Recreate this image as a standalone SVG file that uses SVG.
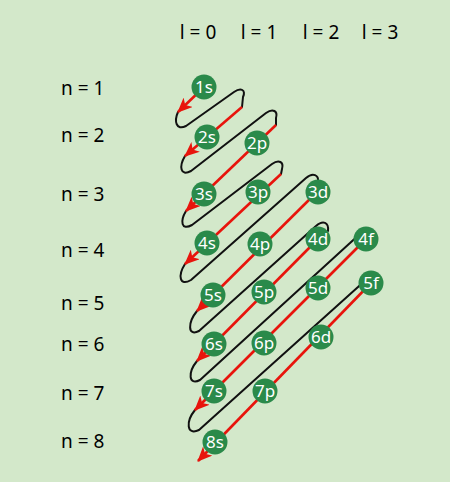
<svg xmlns="http://www.w3.org/2000/svg" width="450" height="482" viewBox="0 0 450 482">
<defs>
<style>
.lbl{font-family:"Noto Sans","DejaVu Sans",sans-serif;font-size:19px;fill:#000}
.nd circle{fill:#2a8a4a}
.nd text{font-family:"Noto Sans","DejaVu Sans",sans-serif;font-size:17px;fill:#fff;text-anchor:middle}
.red{stroke:#e8140c;stroke-width:2.6;fill:none;marker-end:url(#ah)}
.blk{stroke:#111;stroke-width:2;fill:none;stroke-linecap:round;stroke-linejoin:round}
</style>
<marker id="ah" markerUnits="userSpaceOnUse" markerWidth="15" markerHeight="13" refX="14" refY="6.5" orient="auto">
<path d="M0,0 L15,6.5 L0,13 L4,6.5 z" fill="#e8140c"/>
</marker>
</defs>
<rect width="450" height="482" fill="#d3e8ca"/>
<g id="labels">
<text class="lbl" x="198" y="39" text-anchor="middle">l = 0</text>
<text class="lbl" x="259" y="39" text-anchor="middle">l = 1</text>
<text class="lbl" x="321" y="39" text-anchor="middle">l = 2</text>
<text class="lbl" x="380" y="39" text-anchor="middle">l = 3</text>
<text class="lbl" x="61" y="95">n = 1</text>
<text class="lbl" x="61" y="142">n = 2</text>
<text class="lbl" x="61" y="201">n = 3</text>
<text class="lbl" x="61" y="257">n = 4</text>
<text class="lbl" x="61" y="310">n = 5</text>
<text class="lbl" x="61" y="351">n = 6</text>
<text class="lbl" x="61" y="400">n = 7</text>
<text class="lbl" x="61" y="448">n = 8</text>
</g>
<g id="connectors">
<path class="blk" d="M178,112 C174,121 176,131 186,126 L234,92 C241,87 246,90 243,97 L242,107"/>
<path class="blk" d="M185,156 C179,166 180,177 191,171 L266,113 C273,108 278,111 276,118 L276,125"/>
<path class="blk" d="M186,211 C180,221 181,231 192,225 L272,164 C279,159 284,162 282,169 L281,174"/>
<path class="blk" d="M185,264 C178,275 179,287 191,280 L306,178 C313,172 319,175 318,182"/>
<path class="blk" d="M197,311 C188,322 187,337 199,331 L316,226 C323,220 329,222 328,231"/>
<path class="blk" d="M197,361 C188,372 188,386 200,380 L350,243 C353,240 356,237 360,236"/>
<path class="blk" d="M195,410 C186,421 186,436 199,430 L358,287 C361,284 364,282 368,281"/>
<path class="red" d="M204,87 L178,112"/>
<path class="red" d="M242,107 L185,156"/>
<path class="red" d="M276,125 L186,211"/>
<path class="red" d="M281,174 L185,264"/>
<path class="red" d="M318,191 L197,311"/>
<path class="red" d="M319,238 L197,361"/>
<path class="red" d="M366,239 L195,410"/>
<path class="red" d="M371,283 L198,461"/>
</g>
<g id="n1s" class="nd"><circle cx="204" cy="87" r="12.5"/><text x="204" y="93">1s</text></g>
<g id="n2s" class="nd"><circle cx="207" cy="137" r="12.5"/><text x="207" y="143">2s</text></g>
<g id="n2p" class="nd"><circle cx="257" cy="143" r="12.5"/><text x="257" y="149">2p</text></g>
<g id="n3s" class="nd"><circle cx="204" cy="194" r="12.5"/><text x="204" y="200">3s</text></g>
<g id="n3p" class="nd"><circle cx="258" cy="192" r="12.5"/><text x="258" y="198">3p</text></g>
<g id="n3d" class="nd"><circle cx="318" cy="192" r="12.5"/><text x="318" y="198">3d</text></g>
<g id="n4s" class="nd"><circle cx="207" cy="243" r="12.5"/><text x="207" y="249">4s</text></g>
<g id="n4p" class="nd"><circle cx="260" cy="244" r="12.5"/><text x="260" y="250">4p</text></g>
<g id="n4d" class="nd"><circle cx="318" cy="239" r="12.5"/><text x="318" y="245">4d</text></g>
<g id="n4f" class="nd"><circle cx="366" cy="239" r="12.5"/><text x="366" y="245">4f</text></g>
<g id="n5s" class="nd"><circle cx="213" cy="295" r="12.5"/><text x="213" y="301">5s</text></g>
<g id="n5p" class="nd"><circle cx="264" cy="292" r="12.5"/><text x="264" y="298">5p</text></g>
<g id="n5d" class="nd"><circle cx="318" cy="288" r="12.5"/><text x="318" y="294">5d</text></g>
<g id="n5f" class="nd"><circle cx="371" cy="283" r="12.5"/><text x="371" y="289">5f</text></g>
<g id="n6s" class="nd"><circle cx="214" cy="344" r="12.5"/><text x="214" y="350">6s</text></g>
<g id="n6p" class="nd"><circle cx="264" cy="343" r="12.5"/><text x="264" y="349">6p</text></g>
<g id="n6d" class="nd"><circle cx="321" cy="337" r="12.5"/><text x="321" y="343">6d</text></g>
<g id="n7s" class="nd"><circle cx="214" cy="391" r="12.5"/><text x="214" y="397">7s</text></g>
<g id="n7p" class="nd"><circle cx="265" cy="391" r="12.5"/><text x="265" y="397">7p</text></g>
<g id="n8s" class="nd"><circle cx="215" cy="442" r="12.5"/><text x="215" y="448">8s</text></g>
</svg>
